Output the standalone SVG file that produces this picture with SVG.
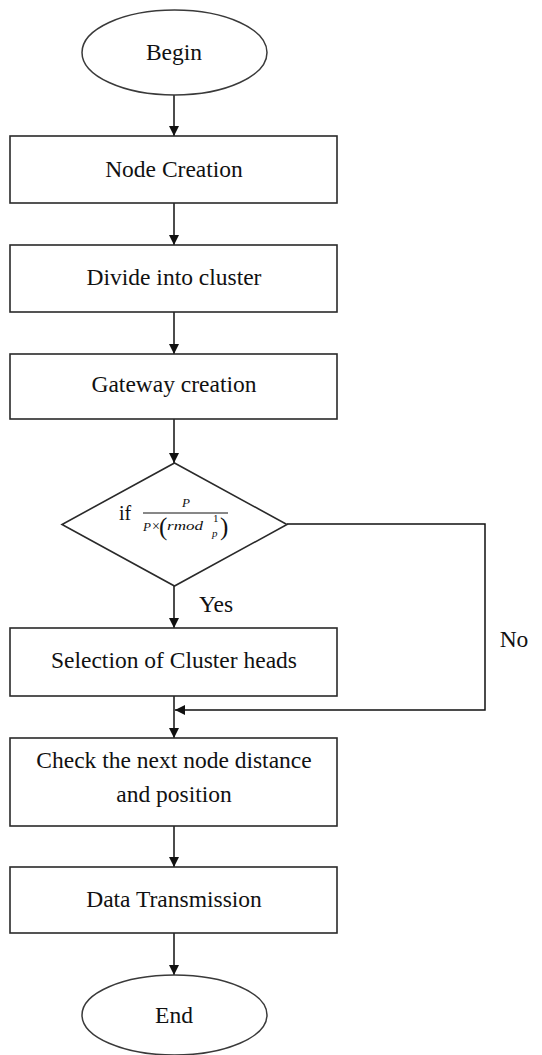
<svg xmlns="http://www.w3.org/2000/svg" width="542" height="1055" viewBox="0 0 542 1055">
<style>
.shape{fill:#fff;stroke:#2a2a2a;stroke-width:1.6}
.ell{fill:#fff;stroke:#3a3a3a;stroke-width:1.5}
.t{font-family:"Liberation Serif","Times New Roman",serif;font-size:23.5px;fill:#111;text-anchor:middle}
.m{font-family:"Liberation Serif","Times New Roman",serif;fill:#111}
.f{font-family:"Liberation Serif","Times New Roman",serif;font-style:italic;fill:#111}
.c{fill:none;stroke:#111;stroke-width:1.5}
</style>
<defs>
<marker id="ah" viewBox="0 0 10 10" refX="10" refY="5" markerWidth="10" markerHeight="10" markerUnits="userSpaceOnUse" orient="auto">
<path d="M0,0 L10,5 L0,10 Z" fill="#111"/>
</marker>
</defs>
<rect width="542" height="1055" fill="#fff"/>
<g id="connectors">
<line class="c" x1="174" y1="95" x2="174" y2="136" marker-end="url(#ah)"/>
<line class="c" x1="174" y1="203" x2="174" y2="245" marker-end="url(#ah)"/>
<line class="c" x1="174" y1="312" x2="174" y2="354" marker-end="url(#ah)"/>
<line class="c" x1="174" y1="419" x2="174" y2="463" marker-end="url(#ah)"/>
<line class="c" x1="174" y1="586" x2="174" y2="628" marker-end="url(#ah)"/>
<line class="c" x1="174" y1="696" x2="174" y2="738" marker-end="url(#ah)"/>
<line class="c" x1="174" y1="826" x2="174" y2="867" marker-end="url(#ah)"/>
<line class="c" x1="174" y1="933" x2="174" y2="975" marker-end="url(#ah)"/>
<polyline class="c" points="287,524 485,524 485,710 175,710" marker-end="url(#ah)"/>
<text class="t" x="216" y="612">Yes</text>
<text class="t" x="514" y="647">No</text>
</g>
<g id="begin">
<ellipse class="ell" cx="174.5" cy="52.5" rx="92.5" ry="42.5"/>
<text class="t" x="174" y="60">Begin</text>
</g>
<g id="node-creation">
<rect class="shape" x="10" y="136" width="327" height="67"/>
<text class="t" x="174" y="177">Node Creation</text>
</g>
<g id="divide">
<rect class="shape" x="10" y="245" width="327" height="67"/>
<text class="t" x="174" y="285">Divide into cluster</text>
</g>
<g id="gateway">
<rect class="shape" x="10" y="354" width="327" height="65"/>
<text class="t" x="174" y="392">Gateway creation</text>
</g>
<g id="decision">
<polygon class="shape" points="174.5,463 287,524.5 174.5,586 62,524.5"/>
<text class="t" x="125" y="520" style="font-size:20px">if</text>
<line x1="143" y1="513" x2="228" y2="513" stroke="#111" stroke-width="1"/>
<text class="f" x="182" y="507" font-size="13">P</text>
<text class="f" x="143" y="531" font-size="13">P</text>
<text class="m" x="152" y="531" font-size="14">×</text>
<text class="m" x="159" y="535" font-size="25">(</text>
<text class="f" x="167" y="530" font-size="13" textLength="36" lengthAdjust="spacingAndGlyphs">rmod</text>
<text class="m" x="213" y="522" font-size="11">1</text>
<text class="f" x="212" y="537" font-size="11">p</text>
<text class="m" x="220" y="535" font-size="25">)</text>
</g>
<g id="selection">
<rect class="shape" x="10" y="628" width="327" height="68"/>
<text class="t" x="174" y="668">Selection of Cluster heads</text>
</g>
<g id="check">
<rect class="shape" x="10" y="738" width="327" height="88"/>
<text class="t" x="174" y="768">Check the next node distance</text>
<text class="t" x="174" y="802">and position</text>
</g>
<g id="data">
<rect class="shape" x="10" y="867" width="327" height="66"/>
<text class="t" x="174" y="907">Data Transmission</text>
</g>
<g id="end">
<ellipse class="ell" cx="174.5" cy="1015" rx="92.5" ry="40"/>
<text class="t" x="174" y="1023">End</text>
</g>
</svg>
